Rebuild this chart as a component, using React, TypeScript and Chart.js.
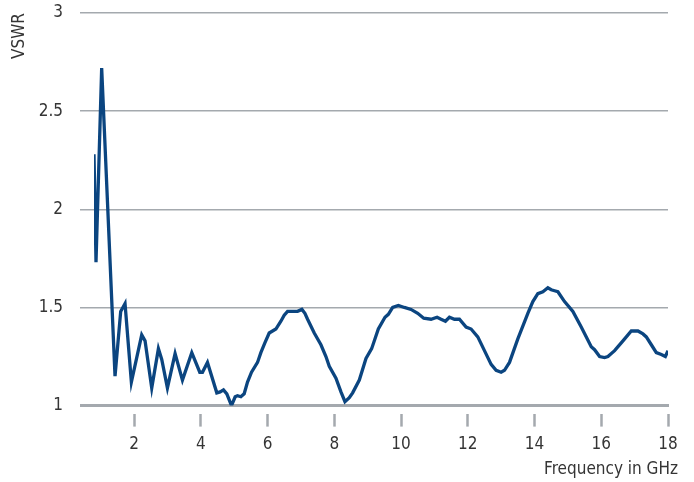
import React, { useEffect, useRef } from "react";
import { Chart, registerables } from "chart.js";

Chart.register(...registerables);

const freqGHz: number[] = [
  0.8, 0.86, 1.03, 1.43, 1.6, 1.73, 1.92, 2.23, 2.33, 2.53, 2.73, 2.83, 3.0, 3.23, 3.45, 3.73, 3.97, 4.05, 4.2,
  4.48, 4.58, 4.68, 4.78, 4.92, 5.03, 5.1, 5.2, 5.3, 5.4, 5.52, 5.7, 5.8, 5.92, 6.05, 6.15, 6.25, 6.4, 6.5, 6.6,
  6.75, 6.9, 7.03, 7.12, 7.2, 7.4, 7.6, 7.75, 7.85, 8.05, 8.2, 8.32, 8.45, 8.55, 8.75, 8.95, 9.12, 9.32, 9.52,
  9.62, 9.75, 9.92, 10.1, 10.3, 10.5, 10.68, 10.9, 11.08, 11.2, 11.33, 11.45, 11.6, 11.75, 11.95, 12.1, 12.3,
  12.5, 12.7, 12.85, 13.0, 13.1, 13.25, 13.5, 13.8, 13.95, 14.1, 14.25, 14.4, 14.5, 14.6, 14.7, 14.9, 15.15,
  15.4, 15.7, 15.8, 15.95, 16.1, 16.2, 16.4, 16.65, 16.9, 17.1, 17.25, 17.35, 17.5, 17.65, 17.8, 17.92, 18.0,
];

const vswr: number[] = [
  2.28, 1.73, 2.72, 1.15, 1.48, 1.52, 1.12, 1.36, 1.33, 1.09, 1.29, 1.235, 1.09, 1.265, 1.13, 1.27, 1.17, 1.17, 1.22,
  1.065, 1.07, 1.08, 1.06, 1.0, 1.045, 1.05, 1.045, 1.06, 1.12, 1.17, 1.22, 1.27, 1.32, 1.37, 1.38, 1.39, 1.43, 1.46, 1.48,
  1.48, 1.48, 1.49, 1.47, 1.44, 1.37, 1.31, 1.25, 1.2, 1.14, 1.07, 1.02, 1.04, 1.065, 1.13, 1.24, 1.29, 1.39, 1.45,
  1.465, 1.5, 1.51, 1.5, 1.49, 1.47, 1.445, 1.44, 1.45, 1.44, 1.43, 1.45, 1.44, 1.44, 1.4, 1.39, 1.35,
  1.28, 1.21, 1.18, 1.17, 1.18, 1.22, 1.34, 1.47, 1.53, 1.57, 1.58, 1.6, 1.59, 1.585, 1.58, 1.53, 1.48,
  1.4, 1.3, 1.285, 1.25, 1.245, 1.25, 1.28, 1.33, 1.38, 1.38, 1.365, 1.35, 1.31, 1.27, 1.26, 1.25, 1.28,
];

const xTitle = "Frequency in GHz";
const yTitle = "VSWR";
const xMin = 0.8;
const xMax = 18;
const xStep = 2;
const yMin = 1;
const yMax = 3;
const yStep = 0.5;

const FONT = '"Liberation Sans Narrow", "Arial Narrow", "DejaVu Sans Condensed", sans-serif';
const FSIZE = 17;
const GRID = "#a4a9ae";
const TEXT = "#353535";
const LINE = "#0b4580";

export default function App() {
  const ref = useRef<HTMLCanvasElement | null>(null);

  useEffect(() => {
    if (!ref.current) return;
    const points = freqGHz.map((f, i) => ({ x: f, y: vswr[i] }));
    const chart = new Chart(ref.current, {
      type: "line",
      data: {
        datasets: [
          {
            data: points,
            borderColor: LINE,
            borderWidth: 3.3,
            pointRadius: 0,
            tension: 0,
            fill: false,
          },
        ],
      },
      options: {
        animation: false,
        responsive: true,
        maintainAspectRatio: false,
        layout: { padding: { top: 13, right: 16, bottom: 2, left: 0 } },
        plugins: {
          legend: { display: false },
          tooltip: { enabled: false },
          title: {
            display: true,
            text: xTitle,
            position: "bottom",
            align: "end",
            color: TEXT,
            font: { family: FONT, size: FSIZE, weight: "normal" },
            padding: { top: 0, bottom: 0 },
          },
        },
        scales: {
          x: {
            type: "linear",
            min: xMin,
            max: xMax,
            afterFit: (s: any) => {
              s.height = 54;
              s.paddingRight = 26;
              s.paddingLeft = 0;
            },
            ticks: {
              stepSize: xStep,
              includeBounds: false,
              color: TEXT,
              padding: 8,
              maxRotation: 0,
              font: { family: FONT, size: FSIZE },
            },
            border: { display: true, color: GRID, width: 3 },
            grid: {
              drawOnChartArea: false,
              drawTicks: true,
              tickLength: 21,
              tickColor: GRID,
              tickWidth: 2.5,
              tickBorderDash: [14, 7],
              tickBorderDashOffset: 14,
            },
          },
          y: {
            min: yMin,
            max: yMax,
            afterFit: (s: any) => {
              s.width = 94;
              s.paddingTop = 0;
              s.paddingBottom = 0;
            },
            title: {
              display: true,
              text: yTitle,
              align: "end",
              color: TEXT,
              font: { family: FONT, size: FSIZE },
              padding: { top: 9, bottom: 0 },
            },
            ticks: {
              stepSize: yStep,
              color: TEXT,
              padding: 10,
              font: { family: FONT, size: FSIZE },
              callback: (v: any) => String(Number(v)),
            },
            border: { display: false },
            grid: {
              color: GRID,
              lineWidth: (c: any) => (c.tick && c.tick.value === 1 ? 3 : 1.5),
              drawTicks: true,
              tickLength: 21,
              tickColor: GRID,
              tickWidth: (c: any) => (c.tick && c.tick.value === 1 ? 3 : 1.5),
              tickBorderDash: [14, 7],
              tickBorderDashOffset: 14,
            },
          },
        },
      },
    });
    return () => chart.destroy();
  }, []);

  return (
    <div style={{ position: "fixed", left: 0, top: 0, width: 694, height: 482, background: "#fff" }}>
      <canvas ref={ref} />
    </div>
  );
}
